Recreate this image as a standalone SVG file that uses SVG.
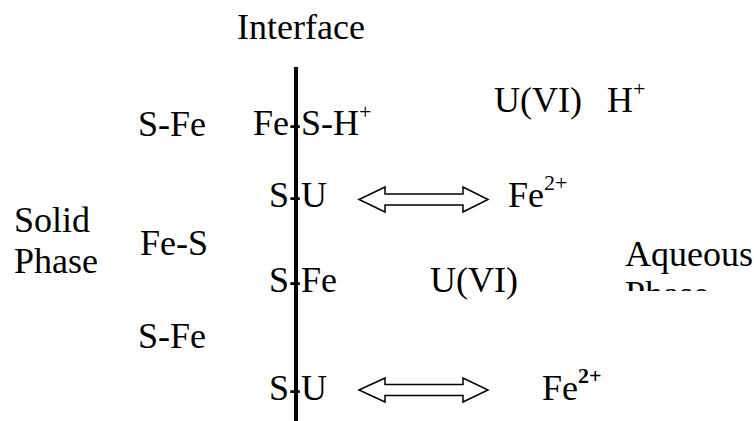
<svg xmlns="http://www.w3.org/2000/svg" width="754" height="421" viewBox="0 0 754 421">
<style>
text{font-family:"Liberation Serif","Times New Roman",serif;font-size:36px;fill:#000}
.sup{font-size:22px}
.arrow{fill:#fff;stroke:#000;stroke-width:1.5;stroke-linejoin:miter}
</style>
<defs>
<clipPath id="clipAq"><rect x="600" y="230" width="154" height="61"/></clipPath>
</defs>
<rect width="754" height="421" fill="#fff"/>
<g id="labels">
<text x="237" y="39">Interface</text>
<text x="14" y="232">Solid</text>
<text x="14" y="273">Phase</text>
<g clip-path="url(#clipAq)"><text x="625" y="266">Aqueous</text><text x="625" y="306">Phase</text></g>
</g>
<g id="solid">
<text x="138" y="136">S-Fe</text>
<text x="140" y="255">Fe-S</text>
<text x="138" y="348">S-Fe</text>
</g>
<g id="interface-line"><rect x="294" y="67" width="4" height="354" fill="#000"/></g>
<g id="surface">
<text x="253" y="135">Fe-S-H<tspan class="sup" dy="-16">+</tspan></text>
<text x="269" y="207">S-U</text>
<text x="269" y="292">S-Fe</text>
<text x="269" y="400">S-U</text>
</g>
<g id="aqueous">
<text x="494" y="112">U(VI)</text>
<text x="607" y="112">H<tspan class="sup" dy="-16">+</tspan></text>
<text x="508" y="207">Fe<tspan class="sup" dy="-17">2+</tspan></text>
<text x="430" y="292">U(VI)</text>
<text x="542" y="400">Fe<tspan class="sup" dy="-17" font-weight="bold">2+</tspan></text>
</g>
<g id="connectors">
<path class="arrow" d="M359,199.5 L385,187 L385,194 L463,194 L463,187 L488,199.5 L463,212 L463,205 L385,205 L385,212 Z"/>
<path class="arrow" d="M359,390 L385,378 L385,384.5 L463,384.5 L463,378 L488,390 L463,402 L463,395.5 L385,395.5 L385,402 Z"/>
</g>
</svg>
